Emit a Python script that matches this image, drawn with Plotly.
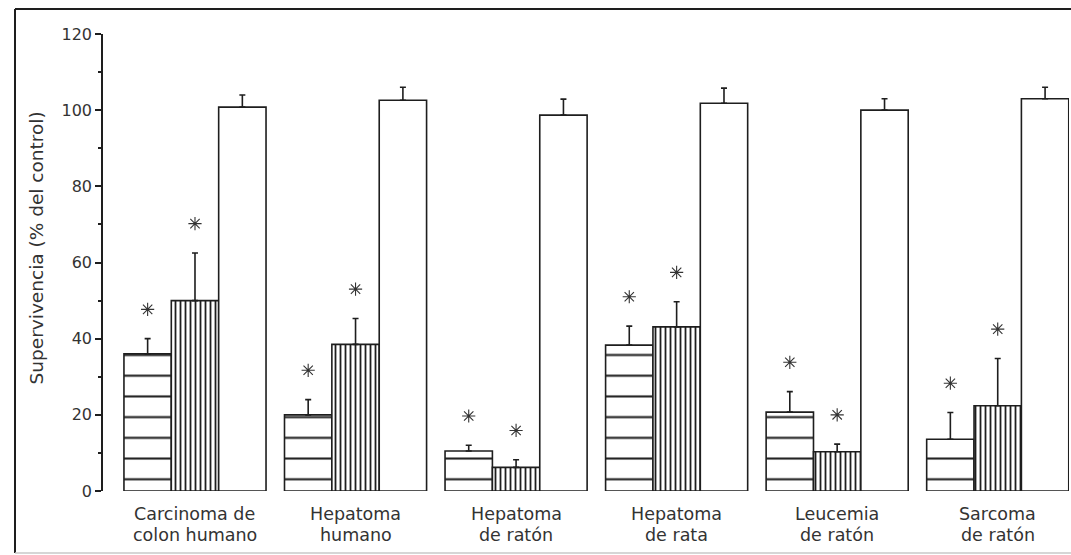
import plotly.graph_objects as go

# Tumour lines (two-line labels under each group)
categories = [
    "Carcinoma de<br>colon humano",
    "Hepatoma<br>humano",
    "Hepatoma<br>de ratón",
    "Hepatoma<br>de rata",
    "Leucemia<br>de ratón",
    "Sarcoma<br>de ratón",
]

# Survival (% of control) and upper error for the three treatments
treat_a = [36, 20, 10.5, 38.3, 20.7, 13.6]
treat_a_err = [4, 4, 1.5, 5, 5.4, 7]
treat_b = [50, 38.5, 6.2, 43.1, 10.3, 22.4]
treat_b_err = [12.5, 6.8, 2, 6.6, 2, 12.4]
control = [100.8, 102.6, 98.7, 101.8, 100, 103]
control_err = [3.2, 3.4, 4.2, 4, 3, 3]

# Significance flags (asterisk above the bar)
sig_a = [True] * 6
sig_b = [True] * 6

y_ticks = [0, 20, 40, 60, 80, 100, 120]

INK = "#1e1e1e"
TXT = "#333333"
FONT = "DejaVu Sans"
BAR_W = 0.885 / 3          # width of one bar inside a group
STAR_GAP = 7.7             # asterisk distance above the error cap, in % units

x = list(range(len(categories)))


def series(values, errs, pattern):
    return go.Bar(
        x=x,
        y=values,
        marker=dict(
            color="white",
            line=dict(color=INK, width=1.6),
            pattern=pattern,
        ),
        error_y=dict(
            type="data",
            symmetric=False,
            array=errs,
            arrayminus=[0] * len(errs),
            color=INK,
            thickness=1.6,
            width=3,
        ),
        showlegend=False,
        hoverinfo="y",
    )


fig = go.Figure()
fig.add_trace(series(treat_a, treat_a_err,
                     dict(shape="-", size=20.71, solidity=0.1,
                          fgcolor=INK, bgcolor="white", fillmode="replace")))
fig.add_trace(series(treat_b, treat_b_err,
                     dict(shape="|", size=5, solidity=0.36,
                          fgcolor=INK, bgcolor="white", fillmode="replace")))
fig.add_trace(series(control, control_err, None))

# Asterisks marking significant differences
star_x, star_y = [], []
for offset, vals, errs, sig in ((-BAR_W, treat_a, treat_a_err, sig_a),
                                (0.0, treat_b, treat_b_err, sig_b)):
    for i, (v, e, s) in enumerate(zip(vals, errs, sig)):
        if s:
            star_x.append(i + offset)
            star_y.append(v + e + STAR_GAP)
fig.add_trace(go.Scatter(
    x=star_x, y=star_y, mode="markers",
    marker=dict(symbol="asterisk-open", size=11, color="#333333",
                line=dict(color="#333333", width=1.1)),
    showlegend=False, hoverinfo="skip",
))

# Group labels, one annotation per line
annotations = []
for i, name in enumerate(categories):
    first, second = name.split("<br>")
    for text, py in ((first, -0.0503), (second, -0.0952)):
        annotations.append(dict(
            x=i, y=py, xref="x", yref="paper", text=text,
            showarrow=False, xanchor="center", yanchor="middle",
            font=dict(family=FONT, size=17.5, color=TXT),
        ))

# Y-axis title
annotations.append(dict(
    x=-0.0694, y=0.533, xref="paper", yref="paper",
    text="Supervivencia (% del control)", textangle=-90,
    showarrow=False, xanchor="center", yanchor="middle",
    font=dict(family=FONT, size=18.5, color=TXT),
))

# Outer frame around the figure
shapes = [
    dict(type="line", xref="paper", yref="paper",
         x0=-0.0911, x1=-0.0911, y0=-0.1357, y1=1.0547,
         line=dict(color=INK, width=2)),
    dict(type="line", xref="paper", yref="paper",
         x0=-0.0911, x1=1.01, y0=1.0547, y1=1.0547,
         line=dict(color=INK, width=2)),
    dict(type="line", xref="paper", yref="paper",
         x0=-0.0911, x1=1.01, y0=-0.1357, y1=-0.1357,
         line=dict(color="#c8c8c8", width=1.5)),
]

fig.update_layout(
    width=1071,
    height=555,
    margin=dict(l=103, r=2, t=34, b=64),
    paper_bgcolor="white",
    plot_bgcolor="white",
    barmode="group",
    bargap=0.115,
    bargroupgap=0,
    font=dict(family=FONT, color=TXT),
    annotations=annotations,
    shapes=shapes,
    xaxis=dict(
        range=[-0.573, 5.444],
        tickmode="array",
        tickvals=x,
        showticklabels=False,
        showline=False,
        showgrid=False,
        zeroline=False,
        ticks="",
    ),
    yaxis=dict(
        range=[0, 120],
        tickmode="array",
        tickvals=y_ticks,
        showline=True,
        linecolor=INK,
        linewidth=1.5,
        showgrid=False,
        zeroline=False,
        ticks="outside",
        ticklen=6,
        tickwidth=1.5,
        tickcolor=INK,
        tickfont=dict(family=FONT, size=16, color=TXT),
        minor=dict(dtick=10, ticks="outside", ticklen=3, tickwidth=1.5,
                   tickcolor=INK, showgrid=False),
    ),
)

fig.write_html("out.html")
